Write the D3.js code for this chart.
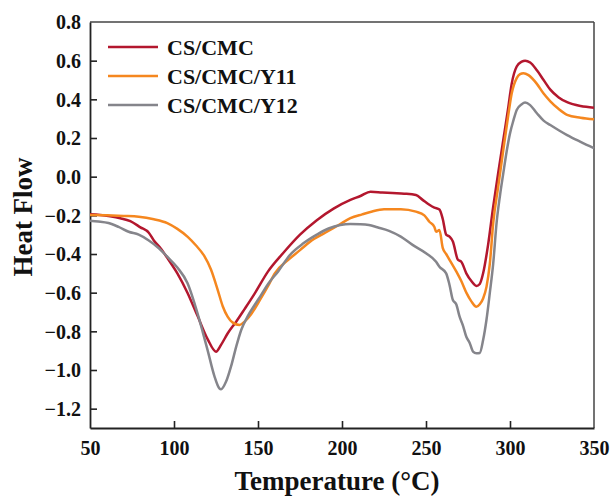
<!DOCTYPE html>
<html><head><meta charset="utf-8">
<script src="https://cdn.jsdelivr.net/npm/d3@7"></script>
<style>body{margin:0;background:#fff;}svg{display:block;}text{font-family:"Liberation Serif","Times New Roman",serif;font-weight:bold;fill:#111;}</style>
</head><body><svg id="c" width="613" height="498"></svg>
<script>
const seriesNames = ["CS/CMC", "CS/CMC/Y11", "CS/CMC/Y12"];
const seriesColors = ["#b3172e", "#f5871f", "#85858b"];
const xTicks = [50, 100, 150, 200, 250, 300, 350];
const yTicks = [0.8, 0.6, 0.4, 0.2, 0.0, -0.2, -0.4, -0.6, -0.8, -1.0, -1.2];
const xLabel = "Temperature (°C)";
const yLabel = "Heat Flow";

const tempCS = [50,56,62,68,74,80,85,88,92,96,102,108,114,120,125,128,132,137,142,148,156,165,175,185,195,205,211,217,224,230,237,244,248,252,255,258,260,262,264,266,269,271,274,277,280,282,284,287,290,293,296,299,301,304,307,309,312,316,320,324,329,334,342,350];
const valCS  = [-0.195,-0.198,-0.205,-0.215,-0.23,-0.262,-0.29,-0.33,-0.37,-0.42,-0.50,-0.60,-0.72,-0.84,-0.905,-0.87,-0.81,-0.75,-0.685,-0.605,-0.49,-0.395,-0.30,-0.225,-0.165,-0.12,-0.1,-0.078,-0.082,-0.085,-0.088,-0.095,-0.12,-0.145,-0.16,-0.17,-0.22,-0.30,-0.31,-0.335,-0.43,-0.44,-0.50,-0.54,-0.565,-0.555,-0.50,-0.35,-0.155,0.02,0.19,0.36,0.48,0.57,0.595,0.60,0.59,0.55,0.50,0.45,0.41,0.385,0.365,0.357];

const tempY11 = [50,60,70,79,88,96,102,108,113,118,122,126,129,132,135,139,142,146,151,156,160,168,175,181,190,198,205,212,218,225,235,244,249,252,255,256,258,260,262,264,268,271,274,277,280,282,284,286,288,290,293,296,299,301,304,306,308,311,316,320,324,329,334,342,350];
const valY11 = [-0.198,-0.2,-0.203,-0.207,-0.22,-0.24,-0.27,-0.31,-0.355,-0.41,-0.48,-0.585,-0.67,-0.725,-0.755,-0.767,-0.75,-0.71,-0.64,-0.565,-0.50,-0.43,-0.38,-0.336,-0.29,-0.25,-0.215,-0.195,-0.18,-0.169,-0.168,-0.181,-0.20,-0.233,-0.26,-0.285,-0.276,-0.37,-0.40,-0.43,-0.49,-0.54,-0.60,-0.645,-0.673,-0.66,-0.63,-0.57,-0.45,-0.24,-0.05,0.138,0.32,0.43,0.51,0.53,0.535,0.525,0.48,0.43,0.39,0.35,0.32,0.305,0.297];

const tempY12 = [50,55,61,67,73,79,85,91,96,102,108,114,117,120,124,127,128,131,134,137,140,144,148,152,156,162,169,177,185,192,199,205,211,216,221,228,235,242,250,256,258,262,264,266,268,270,272,274,276,278,280,282,284,286,288,290,292,294,296,298,300,302,304,307,309,312,316,320,324,329,334,342,350];
const valY12 = [-0.228,-0.232,-0.24,-0.26,-0.285,-0.30,-0.33,-0.37,-0.414,-0.47,-0.55,-0.707,-0.80,-0.897,-1.03,-1.095,-1.10,-1.06,-0.98,-0.88,-0.793,-0.72,-0.664,-0.61,-0.555,-0.49,-0.405,-0.345,-0.30,-0.268,-0.25,-0.245,-0.246,-0.25,-0.262,-0.28,-0.31,-0.353,-0.396,-0.44,-0.466,-0.50,-0.56,-0.638,-0.66,-0.724,-0.77,-0.828,-0.86,-0.905,-0.914,-0.912,-0.845,-0.74,-0.60,-0.45,-0.24,-0.10,0.017,0.13,0.224,0.29,0.345,0.375,0.383,0.37,0.328,0.29,0.267,0.24,0.215,0.18,0.147];

const temps = [tempCS, tempY11, tempY12];
const vals = [valCS, valY11, valY12];

const svg = d3.select("#c");
const L = 90, R = 594, T = 22, B = 428;
const x = d3.scaleLinear().domain([50, 350]).range([L, R]);
const y = d3.scaleLinear().domain([-1.3, 0.8]).range([B, T]);

// frame top/right
svg.append("line").attr("x1", L).attr("x2", R).attr("y1", T).attr("y2", T).attr("stroke", "#444").attr("stroke-width", 1.5);
svg.append("line").attr("x1", R).attr("x2", R).attr("y1", T).attr("y2", B).attr("stroke", "#444").attr("stroke-width", 1.5);

const xAxis = svg.append("g").attr("transform", `translate(0,${B})`)
  .call(d3.axisBottom(x).tickValues(xTicks).tickSizeInner(-7).tickSizeOuter(0).tickPadding(13).tickFormat(d3.format("d")));
const yAxis = svg.append("g").attr("transform", `translate(${L},0)`)
  .call(d3.axisLeft(y).tickValues(yTicks).tickSizeInner(-7).tickSizeOuter(0).tickPadding(9).tickFormat(d3.format(".1f")));
[xAxis, yAxis].forEach(g => {
  g.select(".domain").attr("stroke", "#222").attr("stroke-width", 1.8);
  g.selectAll(".tick line").attr("stroke", "#222").attr("stroke-width", 1.6);
  g.selectAll("text").attr("font-size", 20).attr("font-family", "Liberation Serif").attr("font-weight", "bold").attr("fill", "#111");
});
xAxis.selectAll("text").attr("dy", "0.71em");
yAxis.selectAll("text").attr("dy", "0.34em");
yAxis.selectAll(".tick").filter(d => d === 0.8).select("line").remove();
xAxis.selectAll(".tick").filter(d => d === 50 || d === 350).select("line").remove();

const line = d3.line().x(d => x(d[0])).y(d => y(d[1])).curve(d3.curveMonotoneX);
seriesNames.forEach((n, i) => {
  const pts = temps[i].map((t, k) => [t, vals[i][k]]);
  svg.append("path").datum(pts).attr("d", line).attr("fill", "none")
    .attr("stroke", seriesColors[i]).attr("stroke-width", 2.5).attr("stroke-linejoin", "round");
});

// legend
seriesNames.forEach((n, i) => {
  const yy = 47 + i * 29;
  svg.append("line").attr("x1", 108).attr("x2", 158).attr("y1", yy).attr("y2", yy)
    .attr("stroke", seriesColors[i]).attr("stroke-width", 2.5);
  svg.append("text").attr("x", 167).attr("y", yy + 8).attr("font-size", 22).text(n);
});

svg.append("text").attr("x", 337).attr("y", 490).attr("text-anchor", "middle").attr("font-size", 27).text(xLabel);
svg.append("text").attr("transform", "translate(32,217) rotate(-90)").attr("text-anchor", "middle").attr("font-size", 27).text(yLabel);
</script></body></html>
